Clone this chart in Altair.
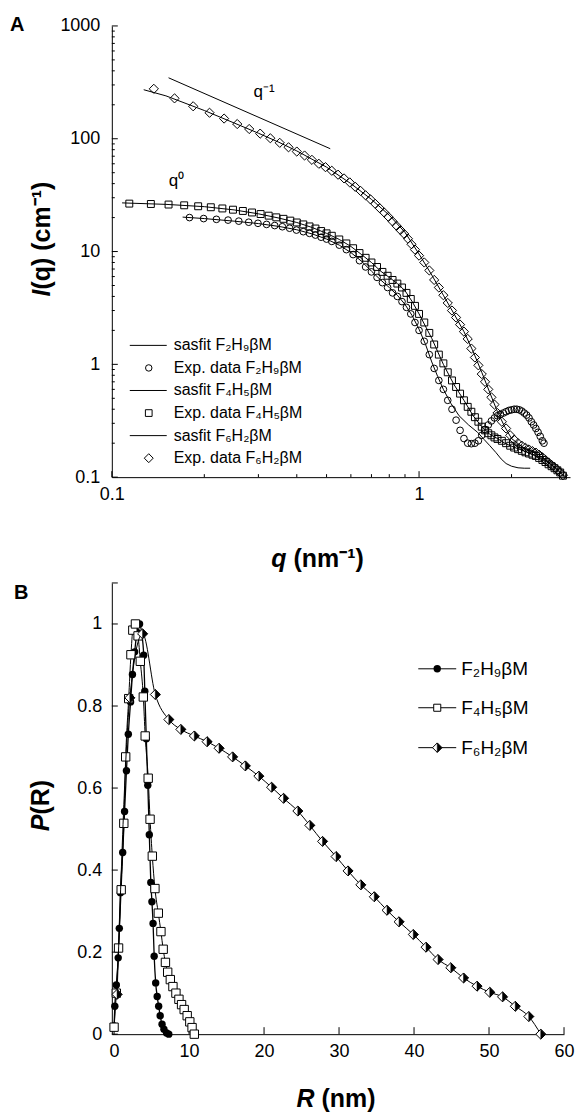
import altair as alt
import pandas as pd

# ---------------- Panel A : SAXS intensity I(q) ----------------
qA_F2H9 = [0.179, 0.199, 0.219, 0.239, 0.259, 0.279, 0.299, 0.319, 0.339, 0.359, 0.379, 0.399,
           0.42, 0.44, 0.46, 0.48, 0.50, 0.52, 0.55, 0.58, 0.61, 0.64, 0.67, 0.70, 0.73, 0.76,
           0.79, 0.82, 0.85, 0.88, 0.91, 0.94, 0.97, 1.00, 1.04, 1.08, 1.12, 1.16, 1.20, 1.24,
           1.28, 1.32, 1.36, 1.40, 1.44, 1.48, 1.52, 1.56, 1.60, 1.64, 1.68, 1.72, 1.76, 1.80,
           1.84, 1.88, 1.92, 1.96, 2.00, 2.04, 2.08, 2.12, 2.16, 2.20, 2.24, 2.28, 2.32, 2.36,
           2.40, 2.44, 2.48, 2.52, 2.55]
IA_F2H9 = [20.0, 19.6, 19.3, 19.0, 18.6, 18.2, 17.8, 17.4, 17.0, 16.6, 16.1, 15.5,
           15.0, 14.5, 14.0, 13.4, 12.9, 12.3, 11.4, 10.4, 9.4, 8.3, 7.3, 6.6, 5.9, 5.3,
           4.8, 4.3, 4.0, 3.6, 3.2, 2.8, 2.35, 2.0, 1.6, 1.22, 0.92, 0.72, 0.6, 0.48,
           0.40, 0.32, 0.26, 0.22, 0.20, 0.198, 0.20, 0.21, 0.235, 0.265, 0.29, 0.315, 0.335, 0.35,
           0.36, 0.37, 0.38, 0.39, 0.395, 0.40, 0.40, 0.395, 0.385, 0.37, 0.355, 0.335, 0.31, 0.29,
           0.27, 0.25, 0.23, 0.21, 0.20]

qA_F4H5 = [0.114, 0.134, 0.153, 0.172, 0.191, 0.210, 0.229, 0.248, 0.267, 0.286, 0.305, 0.324,
           0.343, 0.362, 0.381, 0.400, 0.42, 0.44, 0.46, 0.48, 0.50, 0.52, 0.55, 0.58, 0.61,
           0.64, 0.67, 0.70, 0.73, 0.76, 0.79, 0.82, 0.85, 0.88, 0.91, 0.94, 0.97, 1.00, 1.04,
           1.08, 1.12, 1.16, 1.20, 1.24, 1.28, 1.32, 1.36, 1.40, 1.44, 1.48, 1.52, 1.56, 1.60,
           1.64, 1.68, 1.72, 1.76, 1.80, 1.86, 1.92, 1.98, 2.04, 2.10, 2.16, 2.22, 2.28, 2.34,
           2.40, 2.46, 2.52, 2.58, 2.64, 2.70, 2.76, 2.82, 2.88, 2.94]
IA_F4H5 = [26.6, 26.4, 26.1, 25.7, 25.2, 24.7, 24.1, 23.5, 22.9, 22.2, 21.5, 20.8,
           20.1, 19.5, 18.8, 18.1, 17.4, 16.7, 16.0, 15.2, 14.5, 13.8, 12.8, 11.8, 10.7,
           9.7, 8.8, 8.0, 7.3, 6.6, 6.1, 5.6, 5.2, 4.8, 4.3, 3.8, 3.3, 2.8, 2.35,
           1.9, 1.5, 1.22, 1.02, 0.85, 0.72, 0.63, 0.55, 0.48, 0.42, 0.38, 0.34, 0.31, 0.28,
           0.26, 0.245, 0.235, 0.225, 0.218, 0.21, 0.20, 0.19, 0.183, 0.177, 0.171, 0.166, 0.162, 0.158,
           0.154, 0.148, 0.142, 0.136, 0.130, 0.125, 0.120, 0.115, 0.110, 0.103]

qA_F6H2 = [0.137, 0.160, 0.184, 0.208, 0.232, 0.256, 0.280, 0.304, 0.328, 0.352, 0.376, 0.400,
           0.424, 0.448, 0.472, 0.496, 0.52, 0.545, 0.57, 0.595, 0.62, 0.645, 0.67, 0.695,
           0.72, 0.745, 0.77, 0.795, 0.82, 0.845, 0.87, 0.895, 0.92, 0.945, 0.97, 1.00,
           1.04, 1.08, 1.12, 1.16, 1.20, 1.24, 1.28, 1.32, 1.36, 1.40, 1.44, 1.48, 1.52,
           1.56, 1.60, 1.64, 1.68, 1.72, 1.76, 1.80, 1.86, 1.92, 1.98, 2.04, 2.10, 2.16,
           2.22, 2.28, 2.34, 2.40, 2.46, 2.52, 2.58, 2.64, 2.70, 2.76, 2.82, 2.88, 2.94]
IA_F6H2 = [277, 228, 194, 170, 151, 135, 122, 111, 101, 92, 84, 77,
           71, 65, 60, 56, 52, 48, 44.5, 41, 37.5, 34.5, 31.5, 29,
           26.5, 24.2, 22.2, 20.3, 18.5, 16.9, 15.5, 14.3, 13.0, 11.6, 10.4, 9.2,
           8.0, 6.8, 5.6, 4.8, 4.1, 3.5, 3.0, 2.6, 2.25, 1.95, 1.68, 1.38, 1.15,
           0.98, 0.82, 0.70, 0.60, 0.51, 0.44, 0.37, 0.31, 0.27, 0.235, 0.215, 0.20, 0.19,
           0.182, 0.176, 0.170, 0.165, 0.158, 0.150, 0.142, 0.135, 0.128, 0.122, 0.116, 0.110, 0.104]

# sasfit curves
qfit_F2H9 = [0.17, 0.2, 0.25, 0.3, 0.35, 0.4, 0.45, 0.5, 0.55, 0.6, 0.65, 0.7, 0.75, 0.8, 0.85,
             0.9, 0.95, 1.0, 1.05, 1.1, 1.15, 1.2, 1.27, 1.35, 1.45, 1.55, 1.63, 1.7, 1.78,
             1.85, 1.92, 2.0, 2.1, 2.2, 2.3]
Ifit_F2H9 = [20.2, 19.6, 18.6, 17.7, 16.7, 15.6, 14.3, 12.9, 11.4, 9.8, 8.2, 6.7, 5.6, 4.8, 4.1,
             3.4, 2.7, 2.05, 1.5, 1.05, 0.78, 0.6, 0.45, 0.35, 0.29, 0.25, 0.215, 0.19, 0.165,
             0.145, 0.132, 0.125, 0.121, 0.12, 0.12]
qfit_F4H5 = [0.108, 0.15, 0.2, 0.25, 0.3, 0.35, 0.4, 0.45, 0.5, 0.55, 0.6, 0.65, 0.7, 0.75, 0.8,
             0.85, 0.9, 0.95, 1.0, 1.1, 1.2, 1.3, 1.4, 1.5, 1.6, 1.7, 1.8, 1.9, 2.0, 2.2, 2.4,
             2.6, 2.8, 3.0]
Ifit_F4H5 = [27, 26.2, 25, 23.4, 21.6, 19.8, 18.1, 16.3, 14.5, 12.8, 11.1, 9.4, 8.0, 6.7, 5.9,
             5.2, 4.5, 3.6, 2.8, 1.7, 1.0, 0.66, 0.48, 0.35, 0.28, 0.24, 0.22, 0.2, 0.188, 0.17,
             0.155, 0.138, 0.12, 0.1]
qfit_F6H2 = [0.127, 0.15, 0.2, 0.25, 0.3, 0.35, 0.4, 0.5, 0.6, 0.7, 0.8, 0.9, 1.0, 1.1, 1.2,
             1.3, 1.4, 1.5, 1.6, 1.7, 1.8, 1.9, 2.0, 2.2, 2.4, 2.6, 2.8, 3.0]
Ifit_F6H2 = [272, 240, 178, 138, 112, 93, 78, 56, 40, 29, 21, 14.8, 9.5, 6.2, 4.1,
             2.8, 1.95, 1.3, 0.85, 0.56, 0.38, 0.28, 0.22, 0.18, 0.165, 0.14, 0.118, 0.098]

# guide line q^-1
q_slope = [0.153, 0.514]
I_slope = [347, 81.6]

A_x_labels = [0.1, 1]
A_y_labels = [0.1, 1, 10, 100, 1000]
A_x_minor = [0.2, 0.3, 0.4, 0.5, 0.6, 0.7, 0.8, 0.9, 2, 3]
A_y_minor = [m * d for d in [0.1, 1, 10, 100] for m in range(2, 10)]

legend_A = ["sasfit F\u2082H\u2089\u03b2M", "Exp. data F\u2082H\u2089\u03b2M",
            "sasfit F\u2084H\u2085\u03b2M", "Exp. data F\u2084H\u2085\u03b2M",
            "sasfit F\u2086H\u2082\u03b2M", "Exp. data F\u2086H\u2082\u03b2M"]

# ---------------- Panel B : pair distance distribution P(R) ----------------
R_F2H9 = [0.0, 0.1, 0.3, 0.55, 0.7, 0.85, 1.15, 1.4, 1.65, 1.9, 2.2, 2.45, 2.75, 3.05, 3.4,
          3.7, 3.95, 4.1, 4.3, 4.5, 4.7, 4.9, 5.05, 5.2, 5.35, 5.55, 5.75, 5.95, 6.15, 6.4,
          6.65, 7.0, 7.3]
P_F2H9 = [0.02, 0.068, 0.12, 0.186, 0.258, 0.345, 0.443, 0.543, 0.642, 0.731, 0.81, 0.877,
          0.932, 0.98, 1.0, 0.975, 0.924, 0.836, 0.72, 0.607, 0.486, 0.37, 0.323, 0.27, 0.19,
          0.125, 0.092, 0.068, 0.045, 0.024, 0.012, 0.003, 0.0]
R_F4H5 = [0.0, 0.3, 0.6, 0.95, 1.3, 1.55, 1.95, 2.25, 2.5, 2.85, 3.2, 3.5, 3.9, 4.15, 4.55,
          4.8, 5.1, 5.45, 5.9, 6.25, 6.55, 6.85, 7.15, 7.5, 7.85, 8.25, 8.65, 9.0, 9.35, 9.75,
          10.1, 10.4, 10.7]
P_F4H5 = [0.017, 0.1, 0.21, 0.352, 0.514, 0.676, 0.818, 0.925, 0.985, 1.0, 0.971, 0.909,
          0.822, 0.727, 0.624, 0.524, 0.434, 0.355, 0.295, 0.25, 0.207, 0.175, 0.151, 0.133,
          0.116, 0.1, 0.085, 0.072, 0.06, 0.045, 0.03, 0.016, 0.0]
R_F6H2 = [0.4, 2.1, 3.8, 5.5, 7.3, 8.9, 10.7, 12.4, 14.0, 15.8, 17.5, 19.3, 21.0, 22.6, 24.5,
          26.1, 27.8, 29.6, 31.2, 32.9, 34.7, 36.4, 38.0, 39.9, 41.6, 43.2, 44.9, 46.6, 48.4,
          50.1, 51.8, 53.5, 55.3, 56.9]
P_F6H2 = [0.097, 0.82, 0.976, 0.828, 0.767, 0.743, 0.727, 0.713, 0.697, 0.676, 0.654, 0.629,
          0.602, 0.575, 0.544, 0.509, 0.47, 0.433, 0.398, 0.364, 0.335, 0.302, 0.274, 0.243,
          0.212, 0.182, 0.162, 0.137, 0.117, 0.102, 0.091, 0.068, 0.043, 0.0]

B_x_labels = [0, 10, 20, 30, 40, 50, 60]
B_y_labels = [0, 0.2, 0.4, 0.6, 0.8, 1]
B_y_ticks = [0, 0.2, 0.4, 0.6, 0.8, 1, 1.1]
legend_B = ["F\u2082H\u2089\u03b2M", "F\u2084H\u2085\u03b2M", "F\u2086H\u2082\u03b2M"]

# axis titles: italic symbol + upright remainder
titleA_y = ["I", "(q) (cm\u207b\u00b9)"]
titleA_x = ["q", "(nm\u207b\u00b9)"]
titleB_y = ["P", "(R)"]
titleB_x = ["R", "(nm)"]

# ---------------- build ----------------
FONT = "Liberation Sans"
TFS = 25
WA, HA = 459, 452
WB, HB = 453, 452

sAx = alt.Scale(type="log", domain=[0.1, 3.1], nice=False)
sAy = alt.Scale(type="log", domain=[0.1, 1000], nice=False)
axAx = alt.Axis(values=A_x_labels, format="~g", ticks=False, grid=False, labelFlush=False,
                labelPadding=8, title=None)
axAy = alt.Axis(values=A_y_labels, format="~g", ticks=False, grid=False, labelFlush=False,
                labelPadding=12, title=None)


def XA():
    return alt.X("q:Q", scale=sAx, axis=axAx)


def YA():
    return alt.Y("I:Q", scale=sAy, axis=axAy)


def df_qI(q, I, name=None):
    d = pd.DataFrame({"q": q, "I": I})
    if name:
        d["series"] = name
    return d


def title_pair(parts, x_j, y_j, gap, angle):
    """italic first part ends at junction, upright remainder starts after it"""
    out = []
    d0 = pd.DataFrame({"label": [parts[0]]})
    d1 = pd.DataFrame({"label": [parts[1]]})
    out.append(alt.Chart(d0).mark_text(align="right", baseline="middle", font=FONT, fontSize=TFS,
                                       fontWeight="bold", fontStyle="italic", angle=angle,
                                       color="black").encode(
        x=alt.value(x_j), y=alt.value(y_j), text="label:N"))
    if angle == 0:
        x1, y1 = x_j + gap, y_j
    else:
        x1, y1 = x_j, y_j - gap
    out.append(alt.Chart(d1).mark_text(align="left", baseline="middle", font=FONT, fontSize=TFS,
                                       fontWeight="bold", angle=angle, color="black").encode(
        x=alt.value(x1), y=alt.value(y1), text="label:N"))
    return out


fits = pd.concat([df_qI(qfit_F2H9, Ifit_F2H9, "F2H9"),
                  df_qI(qfit_F4H5, Ifit_F4H5, "F4H5"),
                  df_qI(qfit_F6H2, Ifit_F6H2, "F6H2")])

layersA = []
layersA.append(alt.Chart(pd.DataFrame({"I": A_y_labels})).mark_rule(color="black").encode(
    y=YA(), x=alt.value(0), x2=alt.value(6)))
layersA.append(alt.Chart(pd.DataFrame({"I": A_y_minor})).mark_rule(color="black").encode(
    y=YA(), x=alt.value(0), x2=alt.value(3)))
layersA.append(alt.Chart(pd.DataFrame({"q": A_x_labels})).mark_rule(color="black").encode(
    x=XA(), y=alt.value(HA), y2=alt.value(HA - 6)))
layersA.append(alt.Chart(pd.DataFrame({"q": A_x_minor})).mark_rule(color="black").encode(
    x=XA(), y=alt.value(HA), y2=alt.value(HA - 3)))
layersA.append(alt.Chart(fits).mark_line(color="black", strokeWidth=1).encode(
    x=XA(), y=YA(), detail="series:N"))
layersA.append(alt.Chart(df_qI(q_slope, I_slope)).mark_line(color="black", strokeWidth=1).encode(
    x=XA(), y=YA()))
layersA.append(alt.Chart(df_qI(qA_F2H9, IA_F2H9)).mark_point(
    shape="circle", size=45, color="black", strokeWidth=1, filled=False, opacity=1).encode(x=XA(), y=YA()))
layersA.append(alt.Chart(df_qI(qA_F4H5, IA_F4H5)).mark_point(
    shape="square", size=48, color="black", strokeWidth=1, filled=False, opacity=1).encode(x=XA(), y=YA()))
layersA.append(alt.Chart(df_qI(qA_F6H2, IA_F6H2)).mark_point(
    shape="diamond", size=85, color="black", strokeWidth=1, filled=False, opacity=1).encode(x=XA(), y=YA()))

# legend A
shapesA = [None, "circle", None, "square", None, "diamond"]
sizesA = [0, 42, 0, 45, 0, 80]
for i, lab in enumerate(legend_A):
    yy = 320 + 22.6 * i
    d = pd.DataFrame({"label": [lab]})
    if shapesA[i] is None:
        layersA.append(alt.Chart(d).mark_rule(color="black", strokeWidth=1).encode(
            x=alt.value(18), x2=alt.value(55), y=alt.value(yy)))
    else:
        layersA.append(alt.Chart(d).mark_point(shape=shapesA[i], size=sizesA[i], color="black",
                                               filled=False, opacity=1, strokeWidth=1).encode(
            x=alt.value(37), y=alt.value(yy)))
    layersA.append(alt.Chart(d).mark_text(align="left", baseline="middle", font=FONT, fontSize=16,
                                          color="black").encode(
        x=alt.value(62), y=alt.value(yy), text="label:N"))

# annotations
ann = pd.DataFrame({"label": ["q\u207b\u00b9", "q\u2070", "A"]})
layersA.append(alt.Chart(ann.iloc[[0]]).mark_text(align="left", baseline="alphabetic", font=FONT,
                                                   fontSize=17, color="black").encode(
    x=alt.value(142), y=alt.value(71), text="label:N"))
layersA.append(alt.Chart(ann.iloc[[1]]).mark_text(align="left", baseline="alphabetic", font=FONT,
                                                   fontSize=17, color="black").encode(
    x=alt.value(57), y=alt.value(160), text="label:N"))
layersA.append(alt.Chart(ann.iloc[[2]]).mark_text(align="left", baseline="alphabetic", font=FONT,
                                                   fontSize=20, fontWeight="bold", color="black").encode(
    x=alt.value(-102), y=alt.value(5), text="label:N"))

layersA += title_pair(titleA_y, -70, 264, 0, 270)
layersA += title_pair(titleA_x, 175, 534, 7, 0)

chartA = alt.layer(*layersA).properties(width=WA, height=HA)

# ---- panel B
sBx = alt.Scale(domain=[-0.3, 60], nice=False, zero=False)
sBy = alt.Scale(domain=[0, 1.1], nice=False, zero=False)
axBx = alt.Axis(values=B_x_labels, format="d", ticks=False, grid=False, labelFlush=False,
                labelPadding=8, title=None)
axBy = alt.Axis(values=B_y_labels, format="~g", ticks=False, grid=False, labelFlush=False,
                labelPadding=10, title=None)


def XB():
    return alt.X("R:Q", scale=sBx, axis=axBx)


def YB():
    return alt.Y("P:Q", scale=sBy, axis=axBy)


def df_RP(R, P):
    return pd.DataFrame({"R": R, "P": P})


layersB = []
layersB.append(alt.Chart(pd.DataFrame({"P": B_y_ticks})).mark_rule(color="black").encode(
    y=YB(), x=alt.value(0), x2=alt.value(6)))
layersB.append(alt.Chart(pd.DataFrame({"R": B_x_labels})).mark_rule(color="black").encode(
    x=XB(), y=alt.value(HB), y2=alt.value(HB - 7)))

half_right = "M0,-1L1,0L0,1Z"

layersB.append(alt.Chart(df_RP(R_F2H9, P_F2H9)).mark_line(color="black", strokeWidth=1.3,
                                                            interpolate="monotone").encode(x=XB(), y=YB()))
layersB.append(alt.Chart(df_RP(R_F2H9, P_F2H9)).mark_point(
    shape="circle", size=55, color="black", filled=True, opacity=1).encode(x=XB(), y=YB()))
layersB.append(alt.Chart(df_RP(R_F4H5, P_F4H5)).mark_line(color="black", strokeWidth=1,
                                                            interpolate="monotone").encode(x=XB(), y=YB()))
layersB.append(alt.Chart(df_RP(R_F4H5, P_F4H5)).mark_point(
    shape="square", size=70, fill="white", stroke="black", strokeWidth=1, filled=True,
    opacity=1).encode(x=XB(), y=YB()))
layersB.append(alt.Chart(df_RP(R_F6H2, P_F6H2)).mark_line(color="black", strokeWidth=1,
                                                            interpolate="monotone").encode(x=XB(), y=YB()))
layersB.append(alt.Chart(df_RP(R_F6H2, P_F6H2)).mark_point(
    shape="diamond", size=100, fill="white", stroke="black", strokeWidth=1, filled=True,
    opacity=1).encode(x=XB(), y=YB()))
layersB.append(alt.Chart(df_RP(R_F6H2, P_F6H2)).mark_point(
    shape=half_right, size=100, fill="black", stroke="black", strokeWidth=0.5, filled=True,
    opacity=1).encode(x=XB(), y=YB()))

# legend B
ysB = [86, 125, 165]
for i, lab in enumerate(legend_B):
    d = pd.DataFrame({"label": [lab]})
    layersB.append(alt.Chart(d).mark_rule(color="black", strokeWidth=1).encode(
        x=alt.value(307), x2=alt.value(345), y=alt.value(ysB[i])))
    if i == 0:
        layersB.append(alt.Chart(d).mark_point(shape="circle", size=55, color="black", filled=True,
                                               opacity=1).encode(x=alt.value(326), y=alt.value(ysB[i])))
    elif i == 1:
        layersB.append(alt.Chart(d).mark_point(shape="square", size=50, fill="white", stroke="black",
                                               filled=True, opacity=1, strokeWidth=1).encode(
            x=alt.value(326), y=alt.value(ysB[i])))
    else:
        layersB.append(alt.Chart(d).mark_point(shape="diamond", size=90, fill="white", stroke="black",
                                               filled=True, opacity=1, strokeWidth=1).encode(
            x=alt.value(326), y=alt.value(ysB[i])))
        layersB.append(alt.Chart(d).mark_point(shape=half_right, size=90, fill="black", stroke="black",
                                               filled=True, opacity=1, strokeWidth=0.5).encode(
            x=alt.value(326), y=alt.value(ysB[i])))
    layersB.append(alt.Chart(d).mark_text(align="left", baseline="middle", font=FONT, fontSize=19,
                                          color="black").encode(
        x=alt.value(350), y=alt.value(ysB[i]), text="label:N"))

annB = pd.DataFrame({"label": ["B"]})
layersB.append(alt.Chart(annB).mark_text(align="left", baseline="alphabetic", font=FONT,
                                         fontSize=20, fontWeight="bold", color="black").encode(
    x=alt.value(-98), y=alt.value(16), text="label:N"))

layersB += title_pair(titleB_y, -71, 232, 0, 270)
layersB += title_pair(titleB_x, 203, 517, 7, 0)

chartB = alt.layer(*layersB).properties(width=WB, height=HB)

chart = alt.vconcat(chartA, chartB, spacing=10).properties(
    padding={"left": 2, "top": 6, "right": 0, "bottom": 0}
).configure_view(stroke=None).configure_axis(
    domainColor="black", domainWidth=1, labelFont=FONT, labelFontSize=18, labelColor="black"
)

chart.save("out.html", embed_options={"renderer": "svg", "actions": False})
